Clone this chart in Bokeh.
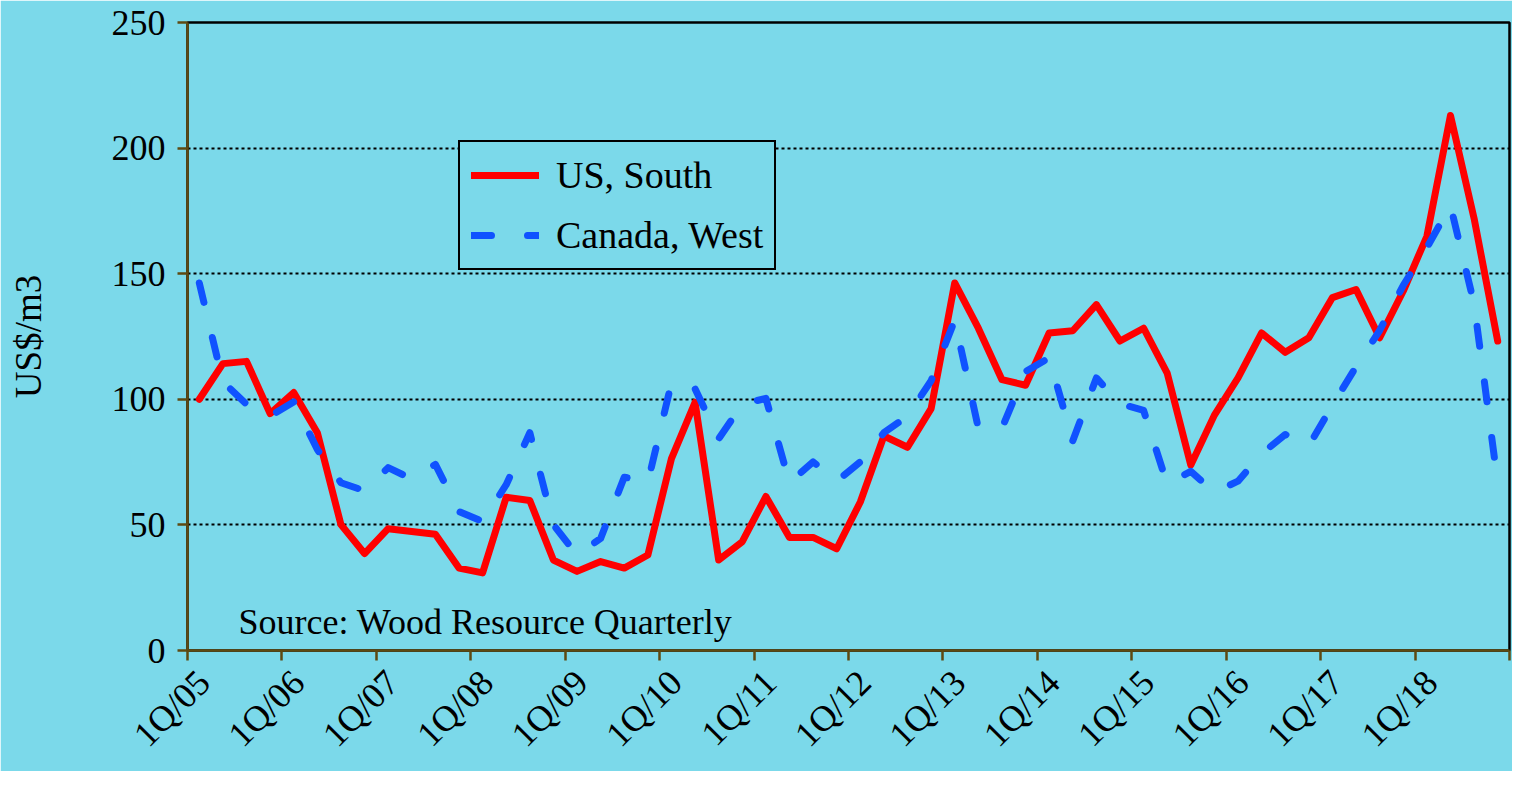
import math
from bokeh.plotting import figure
from bokeh.models import (Range1d, FixedTicker, Legend, LegendItem, Label,
                          LinearAxis, ColumnDataSource)
from bokeh.embed import file_html
from bokeh.resources import INLINE

# ---- data ----
tick_labels = ["1Q/05", "1Q/06", "1Q/07", "1Q/08", "1Q/09", "1Q/10", "1Q/11",
               "1Q/12", "1Q/13", "1Q/14", "1Q/15", "1Q/16", "1Q/17", "1Q/18"]

us_south = [100, 114.2, 115.1, 94.3, 102.7, 86.7, 50.1, 38.6,
            48.5, 47.4, 46.3, 32.8, 30.9, 61.0, 59.7, 36.0,
            31.5, 35.4, 32.8, 38.0, 76.4, 98.8, 36.0, 43.3,
            61.3, 45.0, 45.0, 40.5, 59.1, 85.4, 80.9, 96.3,
            146.3, 128.3, 107.8, 105.6, 126.4, 127.3, 137.7, 123.2,
            128.3, 110.4, 73.8, 93.7, 108.5, 126.4, 118.7, 124.5,
            140.5, 143.7, 124.5, 143.1, 164.9, 213.0, 172.0, 123.2]

canada_west = [146.3, 107.0, 98.0, 93.3, 99.0, 80.0, 66.8, 63.6,
               72.8, 68.3, 74.1, 55.3, 51.4, 66.0, 86.7, 50.1,
               38.0, 44.6, 69.0, 67.0, 106.5, 104.2, 84.3, 98.0,
               100.4, 66.8, 75.1, 67.4, 75.1, 86.7, 93.3, 107.4,
               131.5, 88.5, 88.5, 111.0, 116.5, 83.5, 108.5, 98.2,
               95.6, 66.2, 71.3, 63.0, 67.4, 78.3, 86.0, 81.5,
               97.6, 113.0, 127.4, 145.4, 160.4, 177.1, 138.0, 66.8]

y_ticks = [0, 50, 100, 150, 200, 250]

# ---- styling ----
BG = "#7BD9EA"
AXIS = "#5E4A12"
FONT = "Liberation Serif"
FS = "36px"

n = len(us_south)
x_pos = [i + 0.5 for i in range(n)]          # category centres
src = ColumnDataSource(dict(x=x_pos, us=us_south, ca=canada_west))

p = figure(width=1512, height=771, output_backend="svg", toolbar_location=None,
           x_range=Range1d(0, n), y_range=Range1d(0, 250),
           min_border_left=187, min_border_right=3,
           min_border_top=22, min_border_bottom=119,
           background_fill_color=BG, border_fill_color=BG)
p.outline_line_color = "black"
p.outline_line_width = 2.5

r_us = p.line("x", "us", source=src, line_color="#FF0000", line_width=7,
              line_join="round", line_cap="round")
r_ca = p.line("x", "ca", source=src, line_color="#1052FF", line_width=7,
              line_dash="20 36", line_join="round", line_cap="round")

# x axis: tick marks at year boundaries (no labels on this one)
xt = list(range(0, n + 1, 4))
p.xaxis.ticker = FixedTicker(ticks=xt)
p.xaxis.major_label_overrides = {t: "" for t in xt}
p.xaxis.major_label_text_font_size = "0px"
p.xaxis.major_label_standoff = 0

# second, line-less axis carrying the rotated year labels (Excel-like offset)
lab_ticks = [t + 0.6875 for t in xt[:len(tick_labels)]]
lab_axis = LinearAxis(ticker=FixedTicker(ticks=lab_ticks),
                      major_label_overrides=dict(zip(lab_ticks, tick_labels)),
                      major_label_orientation=math.pi / 4,
                      major_label_standoff=16,
                      axis_line_color=None, major_tick_line_color=None,
                      minor_tick_line_color=None,
                      major_tick_out=0, major_tick_in=0,
                      minor_tick_out=0, minor_tick_in=0,
                      major_label_text_font=FONT,
                      major_label_text_font_size=FS,
                      major_label_text_color="black")
p.add_layout(lab_axis, "below")

# y axis
p.yaxis.ticker = FixedTicker(ticks=y_ticks)
p.yaxis.axis_label = "US$/m3"
p.yaxis.axis_label_text_font = FONT
p.yaxis.axis_label_text_font_size = "37px"
p.yaxis.axis_label_text_font_style = "normal"
p.yaxis.axis_label_text_color = "black"
p.yaxis.axis_label_standoff = 60
p.yaxis.major_label_standoff = 12
p.yaxis.major_label_text_font = FONT
p.yaxis.major_label_text_font_size = FS
p.yaxis.major_label_text_color = "black"

for ax in (p.xaxis[0], p.yaxis[0]):
    ax.axis_line_color = AXIS
    ax.axis_line_width = 2.5
    ax.major_tick_line_color = AXIS
    ax.major_tick_line_width = 2.5
    ax.major_tick_out = 10
    ax.major_tick_in = 0
    ax.minor_tick_line_color = None

p.xgrid.visible = False
p.ygrid.ticker = FixedTicker(ticks=y_ticks)
p.ygrid.grid_line_color = "black"
p.ygrid.grid_line_width = 2
p.ygrid.grid_line_dash = "3 3"

legend = Legend(items=[LegendItem(label="US, South", renderers=[r_us]),
                       LegendItem(label="Canada, West", renderers=[r_ca])],
                location=(271, 380), padding=11, spacing=16, margin=0,
                glyph_width=68, glyph_height=44, label_height=44,
                label_standoff=17, label_text_font=FONT,
                label_text_font_size="38px", label_text_color="black",
                border_line_color="black", border_line_width=2.5,
                border_line_alpha=1.0,
                background_fill_color=BG, background_fill_alpha=1.0)
p.add_layout(legend, "center")

p.add_layout(Label(x=51, y=29, x_units="screen", y_units="screen",
                   text="Source: Wood Resource Quarterly", text_font=FONT,
                   text_font_size=FS, text_color="black",
                   text_baseline="alphabetic"))

open("out.html", "w").write(file_html(p, INLINE))
